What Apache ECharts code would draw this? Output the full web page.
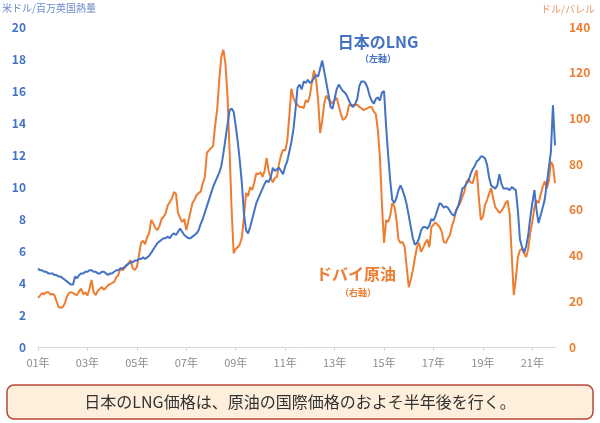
<!DOCTYPE html>
<html>
<head>
<meta charset="utf-8">
<script src="https://cdn.jsdelivr.net/npm/echarts@6/dist/echarts.min.js"></script>
<style>
  html, body { margin: 0; padding: 0; background: #fff; }
  #chart { width: 600px; height: 423px; }
</style>
</head>
<body>
<div id="chart"></div>
<script>
// monthly, Jan 2001 .. Dec 2021
const years = ['01','02','03','04','05','06','07','08','09','10','11','12','13','14','15','16','17','18','19','20','21']
const months = ['01','02','03','04','05','06','07','08','09','10','11','12']
const tickLabels = ['01年','03年','05年','07年','09年','11年','13年','15年','17年','19年','21年']

// 日本のLNG輸入価格 (米ドル/百万英国熱量)
const lngPrice = [
  4.9, 4.8, 4.8, 4.7, 4.7, 4.6, 4.6, 4.6, 4.5, 4.5, 4.4, 4.4,
  4.3, 4.2, 4.1, 4.0, 3.9, 3.9, 4.4, 4.3, 4.5, 4.6, 4.6, 4.7,
  4.7, 4.8, 4.8, 4.7, 4.7, 4.6, 4.6, 4.7, 4.7, 4.6, 4.5, 4.6,
  4.6, 4.7, 4.8, 4.8, 4.9, 4.9, 5.0, 5.1, 5.2, 5.3, 5.3, 5.4,
  5.4, 5.5, 5.5, 5.6, 5.5, 5.6, 5.7, 5.9, 6.1, 6.3, 6.5, 6.6,
  6.7, 6.8, 6.8, 6.9, 6.8, 7.0, 7.1, 7.0, 7.2, 7.4, 7.2, 7.0,
  6.9, 6.8, 6.8, 6.9, 7.0, 7.1, 7.3, 7.7, 8.0, 8.4, 8.8, 9.2,
  9.6, 10.0, 10.3, 10.6, 10.9, 11.3, 12.1, 13.0, 13.9, 14.8, 14.9, 14.7,
  13.8, 12.8, 11.6, 10.2, 8.3, 7.3, 7.1, 7.5, 8.0, 8.5, 9.0, 9.3,
  9.6, 9.9, 10.2, 10.4, 10.3, 10.6, 11.2, 11.0, 11.1, 11.2, 11.0, 10.8,
  11.3, 11.6, 12.2, 12.8, 13.6, 14.8, 16.2, 16.4, 16.1, 16.6, 16.5, 16.7,
  16.5, 16.6, 16.8, 17.0, 16.9, 17.4, 17.9, 17.2, 16.5, 15.8, 15.0, 14.9,
  15.5, 16.1, 16.4, 16.2, 16.0, 15.9, 15.7, 15.4, 15.1, 15.0, 15.2, 15.5,
  16.3, 16.6, 16.6, 16.5, 16.2, 15.7, 15.4, 15.2, 15.5, 15.6, 15.4, 15.9,
  16.0, 13.8, 12.0, 10.4, 9.2, 9.0, 9.3, 9.8, 10.1, 9.8, 9.4, 8.9,
  8.2, 7.5, 6.8, 6.4, 6.5, 6.8, 7.3, 7.5, 7.5, 7.4, 7.6, 8.0,
  7.9, 8.2, 8.6, 9.0, 8.9, 8.7, 8.8, 8.7, 8.5, 8.3, 8.2, 8.5,
  8.8, 9.3, 9.9, 10.0, 10.2, 10.4, 10.8, 11.1, 11.3, 11.6, 11.7, 11.9,
  11.9, 11.8, 11.4, 10.6, 10.1, 10.0, 9.9, 10.1, 10.8, 10.2, 9.9, 9.9,
  9.9, 9.8, 10.0, 9.9, 9.8, 8.5, 6.7, 6.25, 5.9, 6.3, 7.0, 8.1,
  9.0, 9.8, 8.6, 7.75, 8.2, 8.7, 9.2, 10.2, 11.2, 12.2, 15.1, 12.6
]

// ドバイ原油 (ドル/バレル)
const dubaiPrice = [
  21.5, 22.5, 23.6, 23.0, 24.0, 24.0, 23.0, 23.2, 22.7, 20.0, 17.5, 17.2,
  17.5, 19.0, 22.0, 23.6, 24.0, 23.6, 23.0, 22.7, 24.5, 25.5, 23.0, 24.0,
  22.5, 25.5, 29.3, 24.0, 22.7, 24.5, 25.5, 26.2, 25.0, 26.0, 27.0, 27.5,
  28.0, 28.5, 30.5, 31.5, 34.6, 33.5, 34.5, 36.0, 36.7, 38.0, 34.5, 33.7,
  35.0, 40.0, 45.5, 46.5, 45.0, 48.0, 50.0, 55.6, 54.0, 52.0, 51.2, 53.0,
  56.0, 57.0, 58.6, 62.0, 63.4, 65.0, 67.8, 67.0, 58.6, 56.5, 54.7, 56.0,
  51.2, 55.0, 59.0, 63.0, 64.5, 66.5, 67.4, 68.0, 71.7, 74.4, 85.0, 86.0,
  87.0, 88.0, 97.0, 104.0, 117.0, 127.0, 130.0, 124.0, 110.0, 86.0, 60.0, 41.0,
  43.0, 43.7, 45.0, 48.0, 57.0, 67.4, 66.0, 70.0, 68.7, 72.0, 76.0, 75.5,
  76.5, 74.4, 77.0, 82.7, 77.0, 74.0, 72.0, 74.0, 74.4, 80.0, 84.0, 86.2,
  86.0, 90.0, 101.0, 113.0, 109.0, 107.0, 106.0, 105.0, 105.0, 104.5, 108.0, 107.0,
  110.0, 116.0, 121.0, 117.0, 108.0, 93.6, 99.0, 106.7, 110.0, 108.5, 107.5, 106.5,
  108.0, 109.0, 105.5, 102.0, 99.3, 100.0, 101.5, 105.9, 106.0, 105.9, 105.9, 106.0,
  105.0, 104.5, 103.7, 104.0, 104.5, 105.0, 105.0, 103.0, 102.0, 95.0, 83.0, 62.0,
  45.5, 55.5, 54.7, 57.5, 63.0, 61.5, 56.0, 47.0, 45.5, 46.0, 43.7, 35.0,
  26.2, 29.5, 33.7, 39.0, 43.7, 45.5, 41.6, 43.5, 45.5, 47.0, 43.7, 52.5,
  53.5, 54.5, 53.4, 52.5, 50.5, 46.0, 45.5, 47.5, 49.0, 53.0, 55.6, 60.0,
  61.5, 63.0, 65.6, 68.0, 72.2, 73.5, 72.0, 71.7, 75.0, 77.4, 65.5, 55.6,
  57.0, 62.0, 64.3, 67.0, 69.6, 65.0, 61.2, 60.0, 58.6, 59.5, 61.0, 63.0,
  64.0, 58.0, 40.0, 22.7, 30.0, 39.4, 42.4, 43.0, 41.0, 39.4, 43.0, 50.0,
  55.0, 61.0, 64.0, 63.0, 66.5, 70.0, 72.5, 69.5, 72.5, 81.0, 79.6, 71.7
]

const categories = []
years.forEach(y => months.forEach(m => categories.push(y + '/' + m)))

const BLUE = '#4472C4'
const ORANGE = '#ED7D31'
const FONT = '"Noto Sans CJK JP", "Noto Sans", sans-serif'

const chart = echarts.init(document.getElementById('chart'), null, { renderer: 'canvas' })

chart.setOption({
  animation: false,
  backgroundColor: '#fff',
  textStyle: { fontFamily: FONT },
  grid: { left: 38, right: 45, top: 27, bottom: 76 },
  xAxis: {
    type: 'category',
    data: categories,
    boundaryGap: false,
    axisLine: { lineStyle: { color: '#D9D9D9', width: 1 } },
    axisTick: { show: true, interval: (i) => i % 24 === 0, length: 4, lineStyle: { color: '#D9D9D9' } },
    axisLabel: {
      interval: (i) => i % 24 === 0,
      formatter: (v, i) => tickLabels[i / 24],
      color: '#8C8C8C', fontSize: 11, margin: 10, fontFamily: FONT
    },
    splitLine: { show: false }
  },
  yAxis: [
    {
      type: 'value', min: 0, max: 20, interval: 2,
      axisLine: { show: false }, axisTick: { show: false }, splitLine: { show: false },
      axisLabel: { color: BLUE, fontWeight: 'bold', fontSize: 12, margin: 12, fontFamily: FONT }
    },
    {
      type: 'value', min: 0, max: 140, interval: 20,
      axisLine: { show: false }, axisTick: { show: false }, splitLine: { show: false },
      axisLabel: { color: ORANGE, fontWeight: 'bold', fontSize: 12, margin: 14, fontFamily: FONT }
    }
  ],
  series: [
    {
      name: 'ドバイ原油', type: 'line', yAxisIndex: 1, data: dubaiPrice,
      showSymbol: false, lineStyle: { color: ORANGE, width: 2 }, z: 2
    },
    {
      name: '日本のLNG', type: 'line', yAxisIndex: 0, data: lngPrice,
      showSymbol: false, lineStyle: { color: BLUE, width: 2 }, z: 3
    }
  ],
  graphic: [
    { type: 'text', left: 2, top: 3, style: { text: '米ドル/百万英国熱量', fill: '#6A8ACB', font: '10px ' + FONT } },
    { type: 'text', right: 5, top: 4, style: { text: 'ドル/バレル', fill: '#E9956A', font: '10px ' + FONT } },
    { type: 'text', x: 378, y: 34, style: { text: '日本のLNG', fill: BLUE, font: 'bold 16px ' + FONT, textAlign: 'center' } },
    { type: 'text', x: 378, y: 54, style: { text: '（左軸）', fill: BLUE, font: 'bold 9px ' + FONT, textAlign: 'center' } },
    { type: 'text', x: 356, y: 266, style: { text: 'ドバイ原油', fill: ORANGE, font: 'bold 16px ' + FONT, textAlign: 'center' } },
    { type: 'text', x: 358, y: 288, style: { text: '（右軸）', fill: ORANGE, font: 'bold 9px ' + FONT, textAlign: 'center' } },
    {
      type: 'rect', shape: { x: 7, y: 385, width: 586, height: 34, r: 7 },
      style: { fill: '#FDEFDC', stroke: '#B8453C', lineWidth: 1.5 }
    },
    {
      type: 'text', x: 300, y: 402,
      style: { text: '日本のLNG価格は、原油の国際価格のおよそ半年後を行く。', fill: '#333', font: '16px ' + FONT, textAlign: 'center', textVerticalAlign: 'middle' }
    }
  ]
})
</script>
</body>
</html>
